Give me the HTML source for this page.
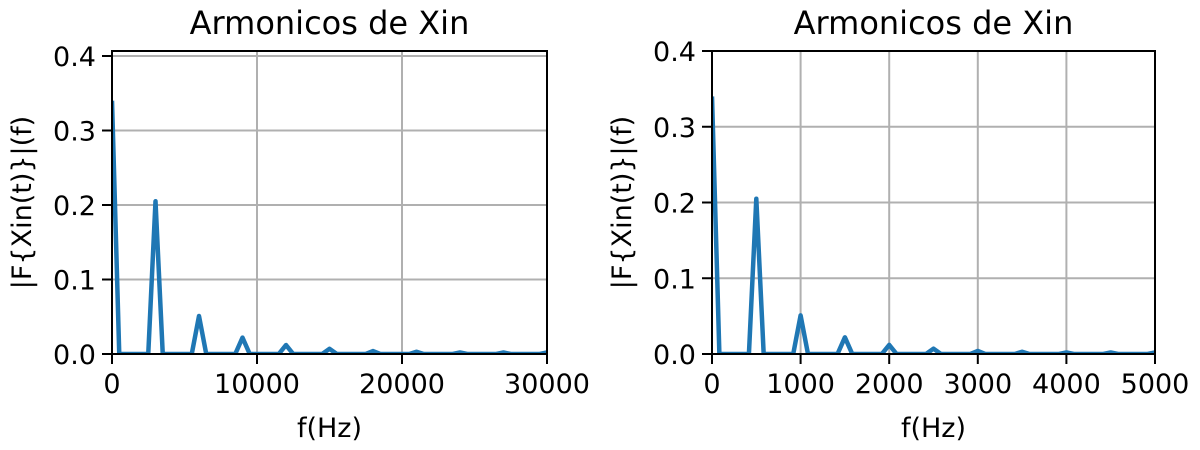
<!DOCTYPE html>
<html><head><meta charset="utf-8"><style>
body{margin:0;background:#fff;}
svg{display:block;font-family:"DejaVu Sans","Liberation Sans",sans-serif;}
</style></head><body>
<svg id="fig" width="1200" height="450"></svg>
<script>
const magnitudes=[0.34,0,0,0,0,0,0.205,0,0,0,0,0,0.051,0,0,0,0,0,0.022,0,0,0,0,0,0.012,0,0,0,0,0,0.007,0,0,0,0,0,0.004,0,0,0,0,0,0.003,0,0,0,0,0,0.002,0,0,0,0,0,0.002,0,0,0,0,0,0.002];
const leftStep=500;
const rightStep=500/6;
const leftXTicks=[0,10000,20000,30000];
const rightXTicks=[0,1000,2000,3000,4000,5000];
const yTicks=[0,0.1,0.2,0.3,0.4];
const NS="http://www.w3.org/2000/svg";
const svg=document.getElementById('fig');
function mk(tag,attrs,parent){const e=document.createElementNS(NS,tag);for(const k in attrs)e.setAttribute(k,attrs[k]);(parent||svg).appendChild(e);return e;}
function panel(name,L,R,T,B,xmax,ymax,xticks,step){
  const g=mk('g',{});
  
  
  const sx=v=>L+(R-L)*v/xmax, sy=v=>B-(B-T)*v/ymax;
  xticks.forEach(t=>{
    const l=mk('line',{x1:sx(t),x2:sx(t),y1:T,y2:B,stroke:'#b0b0b0','stroke-width':2},g);
    
    
    mk('line',{x1:sx(t),x2:sx(t),y1:B,y2:B+10,stroke:'#000','stroke-width':2},g);
    const tx=mk('text',{x:sx(t),y:B+39,'text-anchor':'middle','font-size':27},g);tx.textContent=t;
    
    
  });
  yTicks.forEach(t=>{
    const l=mk('line',{x1:L,x2:R,y1:sy(t),y2:sy(t),stroke:'#b0b0b0','stroke-width':2},g);
    
    
    mk('line',{x1:L-10,x2:L,y1:sy(t),y2:sy(t),stroke:'#000','stroke-width':2},g);
    const tx=mk('text',{x:L-16,y:sy(t)+10,'text-anchor':'end','font-size':27},g);tx.textContent=t.toFixed(1);
    
    
  });
  const pts=magnitudes.map((m,i)=>sx(i*step)+','+sy(m)).join(' ');
  const cp=mk('clipPath',{id:name+'-clip'},g);mk('rect',{x:L,y:T,width:R-L,height:B-T},cp);
  const pl=mk('polyline',{points:pts,fill:'none',stroke:'#1f77b4','stroke-width':4.5,'stroke-linejoin':'round','clip-path':'url(#'+name+'-clip)'},g);
  
  
  const fr=mk('rect',{x:L,y:T,width:R-L,height:B-T,fill:'none',stroke:'#000','stroke-width':2},g);
  
  
  const ti=mk('text',{x:(L+R)/2,y:34,'text-anchor':'middle','font-size':32},g);ti.textContent='Armonicos de Xin';
  
  
  const xl=mk('text',{x:(L+R)/2,y:437,'text-anchor':'middle','font-size':27},g);xl.textContent='f(Hz)';
  
  
  const yl=mk('text',{x:0,y:0,'text-anchor':'middle','font-size':27,transform:'translate('+(L-81)+','+((T+B)/2)+') rotate(-90)'},g);yl.textContent='|F{Xin(t)}|(f)';
  
  
}
panel('left-chart',112,547,51,354,30000,0.4067,leftXTicks,leftStep);
panel('right-chart',712,1155,51,354,5000,0.4,rightXTicks,rightStep);
</script>
</body></html>
